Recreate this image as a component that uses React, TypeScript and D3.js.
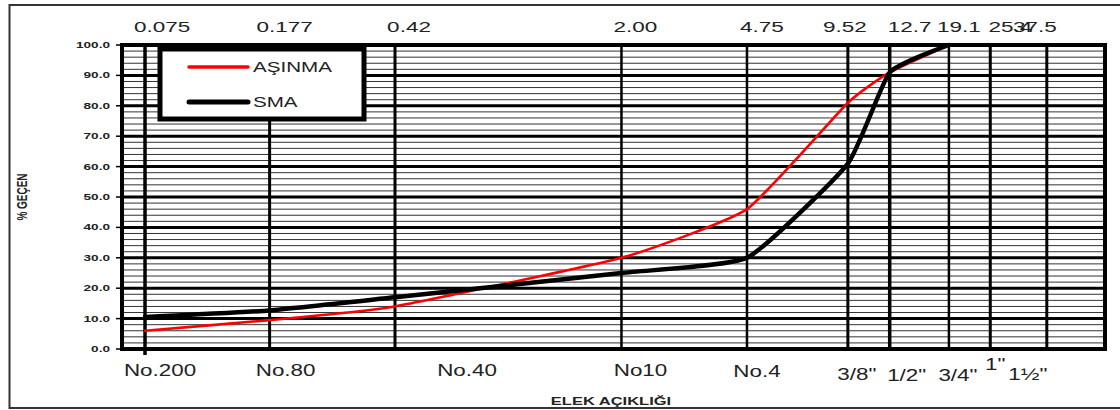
import React from "react";
import * as d3 from "d3";

// ---- data ----
const sieveSizes = [0.075, 0.177, 0.42, 2.0, 4.75, 9.52, 12.7, 19.1, 25.4, 37.5];
const topLabels = ["0.075", "0.177", "0.42", "2.00", "4.75", "9.52", "12.7", "19.1", "25.4", "37.5"];
const bottomLabels = ["No.200", "No.80", "No.40", "No10", "No.4", '3/8"', '1/2"', '3/4"', '1"', '1½"'];
const seriesSizes = [0.075, 0.177, 0.42, 2.0, 4.75, 9.52, 12.7, 19.1];
const asinmaValues = [6, 9.5, 14, 30, 46, 81, 91, 100];
const smaValues = [10.5, 12.7, 17, 25, 30, 61, 91, 100];
const yMajorTicks = [0, 10, 20, 30, 40, 50, 60, 70, 80, 90, 100];
const yMinorTicks = d3.range(0, 101, 2);
const xDomain = [0.064, 56];

// ---- layout / style ----
const W = 1120;
const H = 410;
const plot = { left: 122, right: 1105, top: 45, bottom: 349 };
const verticalWidths = [3.5, 3, 3, 2.5, 2.5, 3, 3.5, 2.5, 3, 3];
const topNudge = [17, 15, 14, 14, 15, -3, 20, 10, 20, -12];
const bottomNudge = [15, 16, 72, 19, 10, 9, 17, 9, 5, -19];
const bottomBaseline = [376, 376, 376, 376, 377, 380, 381, 381, 370, 380];
const FONT = "'Liberation Sans', Arial, sans-serif";
const TEXT = "#222";
const SX = 1.45;

function SText({ x, y, size, bold, anchor = "middle", children, sx = SX, rotate = 0 }: any) {
  return (
    <text
      transform={`translate(${x},${y}) scale(${sx},1)${rotate ? ` rotate(${rotate})` : ""}`}
      fontFamily={FONT}
      fontSize={size}
      fontWeight={bold ? "bold" : "normal"}
      textAnchor={anchor}
      fill={TEXT}
    >
      {children}
    </text>
  );
}

export default function App() {
  const x = d3.scaleLog().domain(xDomain).range([plot.left, plot.right]);
  const y = d3.scaleLinear().domain([0, 100]).range([plot.bottom, plot.top]);

  const line = d3
    .line<number>()
    .x((_, i) => x(seriesSizes[i]))
    .y((v) => y(v))
    .curve(d3.curveCardinal.tension(0.55));

  return (
    <svg
      width={W}
      height={H}
      style={{ position: "absolute", left: 0, top: 0, background: "#fff" }}
    >
      <rect x={0} y={0} width={W} height={H} fill="#fff" />
      {/* outer frame */}
      <rect x={9.5} y={5} width={1125} height={403} fill="none" stroke="#333" strokeWidth={2} />

      {/* minor horizontal grid */}
      {yMinorTicks
        .filter((t) => t % 10 !== 0)
        .map((t) => (
          <line key={"mn" + t} x1={plot.left} x2={plot.right} y1={y(t)} y2={y(t)} stroke="#333" strokeWidth={1} />
        ))}
      {/* major horizontal grid */}
      {yMajorTicks.map((t) => (
        <line key={"mj" + t} x1={plot.left} x2={plot.right} y1={y(t)} y2={y(t)} stroke="#000" strokeWidth={3} />
      ))}
      {/* vertical sieve lines */}
      {sieveSizes.map((s, i) => (
        <line
          key={"v" + s}
          x1={x(s)}
          x2={x(s)}
          y1={plot.top}
          y2={i === 0 ? plot.bottom + 6 : plot.bottom}
          stroke="#000"
          strokeWidth={verticalWidths[i]}
        />
      ))}

      {/* series */}
      <path d={line(asinmaValues) || ""} fill="none" stroke="#ff0000" strokeWidth={2.6} strokeLinejoin="round" strokeLinecap="round" />
      <path d={line(smaValues) || ""} fill="none" stroke="#000" strokeWidth={4.5} strokeLinejoin="round" strokeLinecap="round" />

      {/* plot border */}
      <rect
        x={plot.left}
        y={plot.top}
        width={plot.right - plot.left}
        height={plot.bottom - plot.top}
        fill="none"
        stroke="#000"
        strokeWidth={4}
      />

      {/* y ticks & labels */}
      {yMajorTicks.map((t) => (
        <g key={"yt" + t}>
          <line x1={plot.left - 6} x2={plot.left} y1={y(t)} y2={y(t)} stroke="#000" strokeWidth={1.5} />
          <SText x={110} y={y(t) + 3} size={8.5} bold anchor="end" sx={1.6}>
            {t.toFixed(1)}
          </SText>
        </g>
      ))}

      {/* top labels */}
      {sieveSizes.map((s, i) => (
        <SText key={"tl" + s} x={x(s) + topNudge[i]} y={32} size={15} sx={1.5}>
          {topLabels[i]}
        </SText>
      ))}

      {/* bottom labels */}
      {sieveSizes.map((s, i) => (
        <SText key={"bl" + s} x={x(s) + bottomNudge[i]} y={bottomBaseline[i]} size={16} sx={1.4}>
          {bottomLabels[i]}
        </SText>
      ))}

      {/* axis titles */}
      <SText x={27} y={197} size={10} bold sx={1.5} rotate={-90}>
        % GEÇEN
      </SText>
      <SText x={611} y={405} size={11} bold sx={1.5}>
        ELEK AÇIKLIĞI
      </SText>

      {/* legend */}
      <rect x={160} y={49} width={204} height={70} fill="#fff" stroke="#000" strokeWidth={5} />
      <line x1={189} x2={248} y1={67} y2={67} stroke="#ff0000" strokeWidth={3.5} strokeLinecap="round" />
      <SText x={253} y={72} size={14.5} anchor="start" sx={1.42}>
        AŞINMA
      </SText>
      <line x1={189} x2={248} y1={102} y2={102} stroke="#000" strokeWidth={5} strokeLinecap="round" />
      <SText x={253} y={107} size={14.5} anchor="start" sx={1.42}>
        SMA
      </SText>
    </svg>
  );
}
